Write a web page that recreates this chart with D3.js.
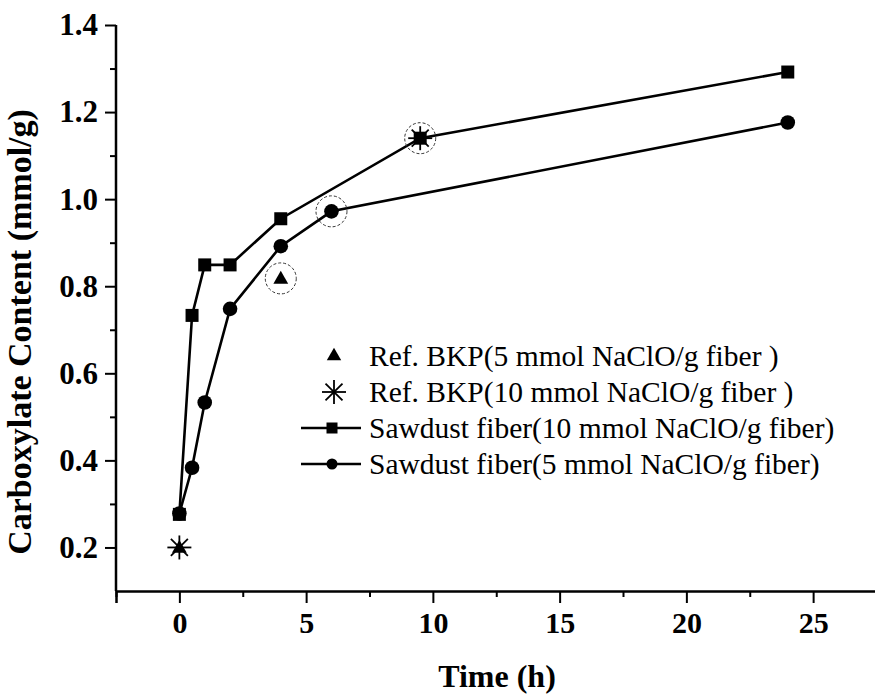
<!DOCTYPE html>
<html>
<head>
<meta charset="utf-8">
<script src="https://cdn.jsdelivr.net/npm/d3@7"></script>
<style>
  html, body { margin: 0; padding: 0; background: #fff; }
  svg { display: block; }
</style>
</head>
<body>
<div id="chart"></div>
<script>
// ---- data ----
const saw10Time = [0, 0.5, 1, 2, 4, 9.5, 24];
const saw10Val  = [0.276, 0.733, 0.849, 0.849, 0.955, 1.14, 1.292];
const saw5Time  = [0, 0.5, 1, 2, 4, 6, 24];
const saw5Val   = [0.278, 0.383, 0.533, 0.748, 0.892, 0.972, 1.176];
const bkp5Time  = [0, 4];
const bkp5Val   = [0.2, 0.818];
const bkp10Time = [0, 9.5];
const bkp10Val  = [0.2, 1.14];
const circledTime = [4, 6, 9.5];
const circledVal  = [0.818, 0.972, 1.14];
const xTicks = [0, 5, 10, 15, 20, 25];
const yTicks = [0.2, 0.4, 0.6, 0.8, 1.0, 1.2, 1.4];
const legendLabels = [
  "Ref. BKP(5 mmol NaClO/g fiber )",
  "Ref. BKP(10 mmol NaClO/g fiber )",
  "Sawdust fiber(10 mmol NaClO/g fiber)",
  "Sawdust fiber(5 mmol NaClO/g fiber)"
];

const W = 875, H = 695;
const svg = d3.select("#chart").append("svg").attr("width", W).attr("height", H)
  .style("font-family", "'Liberation Serif', 'Times New Roman', serif");

const x = d3.scaleLinear().domain([-2.5, 27.5]).range([116, 876.5]);
const y = d3.scaleLinear().domain([0.1, 1.4]).range([591, 25]);

// axes
const xAxis = d3.axisBottom(x).tickValues(xTicks).tickFormat(d3.format("d")).tickSize(12).tickPadding(9);
const xMinor = d3.axisBottom(x).tickValues(d3.range(-2.5, 27.6, 5)).tickFormat("").tickSize(6);
const yAxis = d3.axisLeft(y).tickValues(yTicks).tickFormat(d3.format(".1f")).tickSize(11).tickPadding(7);
const yMinor = d3.axisLeft(y).tickValues(d3.range(0.3, 1.35, 0.2)).tickFormat("").tickSize(6);

function styleAxis(g, fs) {
  g.selectAll("path").attr("stroke", "#000").attr("stroke-width", 2.5);
  g.selectAll("line").attr("stroke", "#000").attr("stroke-width", 2);
  g.selectAll("text").attr("fill", "#000").style("font-size", fs + "px").style("font-weight", "bold")
    .style("font-family", "'Liberation Serif', serif");
}
const gx = svg.append("g").attr("transform", "translate(0,591)").call(xAxis).call(styleAxis, 30);
svg.append("g").attr("transform", "translate(0,591)").call(xMinor).call(styleAxis, 30)
  .select("path").remove();
const gy = svg.append("g").attr("transform", "translate(116,0)").call(yAxis).call(styleAxis, 31);
svg.append("g").attr("transform", "translate(116,0)").call(yMinor).call(styleAxis, 31)
  .select("path").remove();
gy.select("path").attr("d", `M0,${y(0.1)}V${y(1.4)}`);

// axis titles
svg.append("text").attr("x", 497).attr("y", 687).attr("text-anchor", "middle")
  .style("font-size", "32px").style("font-weight", "bold").text("Time (h)");
svg.append("text").attr("transform", `translate(31,332) rotate(-90)`)
  .attr("text-anchor", "middle").style("font-size", "34px").style("font-weight", "bold")
  .text("Carboxylate Content (mmol/g)");

// lines
const line = d3.line().x(d => x(d[0])).y(d => y(d[1]));
const saw10 = saw10Time.map((t, i) => [t, saw10Val[i]]);
const saw5 = saw5Time.map((t, i) => [t, saw5Val[i]]);
svg.append("path").datum(saw10).attr("d", line).attr("fill", "none").attr("stroke", "#000").attr("stroke-width", 2.6);
svg.append("path").datum(saw5).attr("d", line).attr("fill", "none").attr("stroke", "#000").attr("stroke-width", 2.6);

// dashed highlight circles
svg.selectAll(".hl").data(circledTime.map((t, i) => [t, circledVal[i]])).enter().append("circle")
  .attr("cx", d => x(d[0])).attr("cy", d => y(d[1])).attr("r", 15.5)
  .attr("fill", "none").attr("stroke", "#333").attr("stroke-width", 1).attr("stroke-dasharray", "3,2");

// markers
const sq = 13;
svg.selectAll(".sq").data(saw10).enter().append("rect")
  .attr("x", d => x(d[0]) - sq/2).attr("y", d => y(d[1]) - sq/2).attr("width", sq).attr("height", sq).attr("fill", "#000");
svg.selectAll(".ci").data(saw5).enter().append("circle")
  .attr("cx", d => x(d[0])).attr("cy", d => y(d[1])).attr("r", 7.3).attr("fill", "#000");
const tri = d3.symbol().type(d3.symbolTriangle).size(95);
svg.selectAll(".tr").data(bkp5Time.map((t, i) => [t, bkp5Val[i]])).enter().append("path")
  .attr("d", tri).attr("transform", d => `translate(${x(d[0])},${y(d[1]) + 1})`).attr("fill", "#000");
function star(g, cx, cy, r) {
  for (let k = 0; k < 4; k++) {
    const a = k * Math.PI / 4;
    g.append("line").attr("x1", cx - r * Math.cos(a)).attr("y1", cy - r * Math.sin(a))
      .attr("x2", cx + r * Math.cos(a)).attr("y2", cy + r * Math.sin(a))
      .attr("stroke", "#000").attr("stroke-width", 1.8);
  }
}
bkp10Time.forEach((t, i) => star(svg, x(t), y(bkp10Val[i]), 12));

// legend
const lg = svg.append("g");
const rowY = [366, 402, 438, 474];
const symX = 332, textX = 369;
lg.append("path").attr("d", d3.symbol().type(d3.symbolTriangle).size(90))
  .attr("transform", `translate(${symX + 2},${rowY[0] - 10})`).attr("fill", "#000");
star(lg, symX + 2, rowY[1] - 10, 12);
[2, 3].forEach(i => {
  lg.append("line").attr("x1", 301).attr("x2", 361).attr("y1", rowY[i] - 10).attr("y2", rowY[i] - 10)
    .attr("stroke", "#000").attr("stroke-width", 2.6);
});
lg.append("rect").attr("x", symX - 5.5).attr("y", rowY[2] - 15.5).attr("width", 11).attr("height", 11).attr("fill", "#000");
lg.append("circle").attr("cx", symX).attr("cy", rowY[3] - 10).attr("r", 5.5).attr("fill", "#000");
legendLabels.forEach((s, i) => {
  lg.append("text").attr("x", textX).attr("y", rowY[i]).style("font-size", "29.5px").attr("fill", "#000").text(s);
});
</script>
</body>
</html>
